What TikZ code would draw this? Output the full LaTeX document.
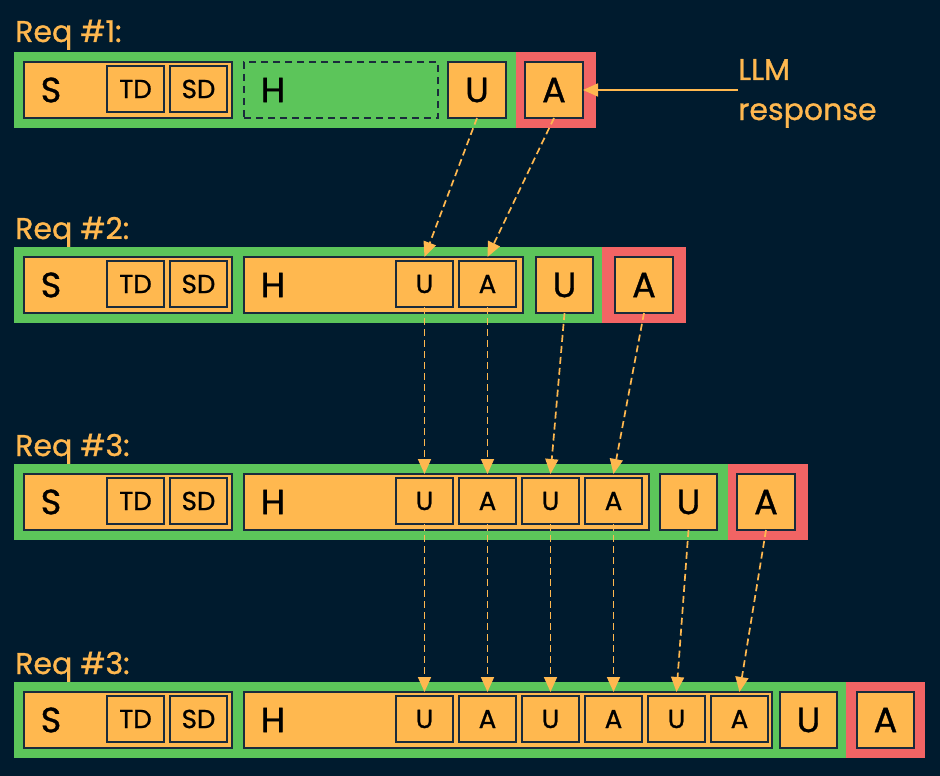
\documentclass[tikz,border=0pt]{standalone}
\usepackage{fontspec}
\setmainfont{Poppins}[FakeBold=1.0]
\usetikzlibrary{arrows.meta}
\definecolor{bg}{HTML}{001B2E}
\definecolor{org}{HTML}{FFB84F}
\definecolor{grn}{HTML}{5CC55A}
\definecolor{rd}{HTML}{F26464}
\definecolor{edgec}{HTML}{1A2B3C}
\newcommand\BigLetF{\fontsize{35}{38}\selectfont}
\newcommand\SmLetF{\fontsize{26}{30}\selectfont}
\newcommand\LabF{\fontsize{30}{34}\selectfont}
\tikzset{
  bar/.style={anchor=north west, inner sep=0pt, outer sep=0pt, fill=grn, minimum height=76pt},
  redbar/.style={bar, fill=rd},
  tok/.style={anchor=north west, inner sep=0pt, outer sep=0pt, fill=org, draw=edgec, line width=1.3pt, minimum height=56pt, font=\BigLetF, text=black},
  itok/.style={tok, minimum height=46pt, minimum width=57pt, font=\SmLetF},
  hdash/.style={anchor=north west, inner sep=0pt, outer sep=0pt, draw=edgec, line width=1.3pt, dash pattern=on 7pt off 5pt, minimum height=56pt},
  big/.style={inner sep=0pt, font=\BigLetF, text=black},
  lab/.style={anchor=base west, inner sep=0pt, font=\LabF, text=org},
  flow/.style={draw=org, line width=1.7pt, dash pattern=on 7pt off 4pt, -{Triangle[length=15pt,width=13pt]}},
  resp/.style={draw=org, line width=1.8pt, -{Triangle[length=15pt,width=13pt]}}
}
\begin{document}
\begin{tikzpicture}[x=1pt,y=-1pt]
\fill[bg] (0,0) rectangle (940,776);
\useasboundingbox (0,0) rectangle (940,776);

% ---------- Row 1 ----------
\node[lab] (l1) at (15,42) {Req \#1:};
\node[bar, minimum width=502pt] (g1) at (14,52) {};
\node[redbar, minimum width=80pt] (rb1) at (516,52) {};
\node[tok, minimum width=208pt] (r1s) at (24,62) {};
\node[big] (r1st) at (51,90) {S};
\node[itok] (r1td) at (107,66) {TD};
\node[itok] (r1sd) at (170,66) {SD};
\node[hdash, minimum width=194pt] (r1h) at (244,62) {};
\node[big] (r1ht) at (273,90) {H};
\node[tok, minimum width=58pt] (r1u) at (448,62) {U};
\node[tok, minimum width=58pt] (r1a) at (525,62) {A};
\node[lab] (llm1) at (738,80) {LLM};
\node[lab] (llm2) at (738,120) {response};

% ---------- Row 2 ----------
\node[lab] (l2) at (15,239) {Req \#2:};
\node[bar, minimum width=588pt] (g2) at (14,247) {};
\node[redbar, minimum width=84pt] (rb2) at (602,247) {};
\node[tok, minimum width=208pt] (r2s) at (24,257) {};
\node[big] (r2st) at (51,285) {S};
\node[itok] (r2td) at (107,261) {TD};
\node[itok] (r2sd) at (170,261) {SD};
\node[tok, minimum width=279pt] (r2h) at (244,257) {};
\node[big] (r2ht) at (273,285) {H};
\node[itok] (r2i1) at (396,261) {U};
\node[itok] (r2i2) at (459,261) {A};
\node[tok, minimum width=57pt] (r2u) at (536,257) {U};
\node[tok, minimum width=58pt] (r2a) at (615,257) {A};

% ---------- Row 3 ----------
\node[lab] (l3) at (15,456) {Req \#3:};
\node[bar, minimum width=714pt] (g3) at (14,464) {};
\node[redbar, minimum width=80pt] (rb3) at (728,464) {};
\node[tok, minimum width=208pt] (r3s) at (24,474) {};
\node[big] (r3st) at (51,502) {S};
\node[itok] (r3td) at (107,478) {TD};
\node[itok] (r3sd) at (170,478) {SD};
\node[tok, minimum width=405pt] (r3h) at (244,474) {};
\node[big] (r3ht) at (273,502) {H};
\node[itok] (r3i1) at (396,478) {U};
\node[itok] (r3i2) at (459,478) {A};
\node[itok] (r3i3) at (522,478) {U};
\node[itok] (r3i4) at (585,478) {A};
\node[tok, minimum width=57pt] (r3u) at (660,474) {U};
\node[tok, minimum width=58pt] (r3a) at (737,474) {A};

% ---------- Row 4 ----------
\node[lab] (l4) at (15,674) {Req \#3:};
\node[bar, minimum width=832pt] (g4) at (14,682) {};
\node[redbar, minimum width=79pt] (rb4) at (846,682) {};
\node[tok, minimum width=208pt] (r4s) at (24,692) {};
\node[big] (r4st) at (51,720) {S};
\node[itok] (r4td) at (107,696) {TD};
\node[itok] (r4sd) at (170,696) {SD};
\node[tok, minimum width=528pt] (r4h) at (244,692) {};
\node[big] (r4ht) at (273,720) {H};
\node[itok] (r4i1) at (396,696) {U};
\node[itok] (r4i2) at (459,696) {A};
\node[itok] (r4i3) at (522,696) {U};
\node[itok] (r4i4) at (585,696) {A};
\node[itok] (r4i5) at (648,696) {U};
\node[itok] (r4i6) at (711,696) {A};
\node[tok, minimum width=57pt] (r4u) at (780,692) {U};
\node[tok, minimum width=57pt] (r4a) at (857,692) {A};

% ---------- Connectors ----------
\draw[resp] (r1a.east -| llm1.west) -- (r1a.east);

\draw[flow] (r1u.south) -- (r2i1.north |- r2h.north);
\draw[flow] (r1a.south) -- (r2i2.north |- r2h.north);

\draw[flow] (r2i1.south) -- (r3i1.north |- r3h.north);
\draw[flow] (r2i2.south) -- (r3i2.north |- r3h.north);
\draw[flow] (r2u.south) -- (r3i3.north |- r3h.north);
\draw[flow] (r2a.south) -- (r3i4.north |- r3h.north);

\draw[flow] (r3i1.south) -- (r4i1.north |- r4h.north);
\draw[flow] (r3i2.south) -- (r4i2.north |- r4h.north);
\draw[flow] (r3i3.south) -- (r4i3.north |- r4h.north);
\draw[flow] (r3i4.south) -- (r4i4.north |- r4h.north);
\draw[flow] (r3u.south) -- (r4i5.north |- r4h.north);
\draw[flow] (r3a.south) -- (r4i6.north |- r4h.north);
\end{tikzpicture}
\end{document}
